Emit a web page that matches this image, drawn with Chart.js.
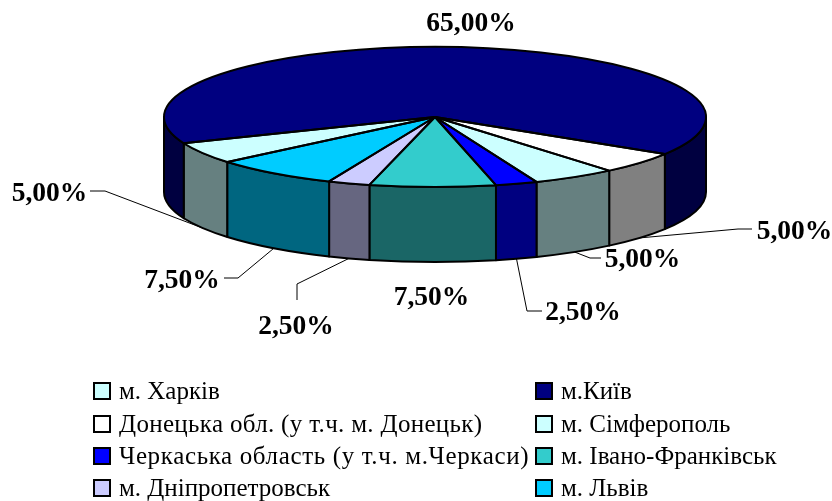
<!DOCTYPE html>
<html lang="uk">
<head>
<meta charset="utf-8">
<title>Розподіл за регіонами</title>
<script src="https://cdn.jsdelivr.net/npm/chart.js@4/dist/chart.umd.js"></script>
<style>
    html, body { margin: 0; padding: 0; background: #fff; }
    #wrap { width: 832px; height: 501px; }
</style>
</head>
<body>
<div id="wrap"><canvas id="pie" width="832" height="501"></canvas></div>
<script>
/* Values and names, in the legend's order */
const categories = [
    'м. Харків', 'м.Київ', 'Донецька обл. (у т.ч. м. Донецьк)', 'м. Сімферополь',
    'Черкаська область (у т.ч. м.Черкаси)', 'м. Івано-Франківськ', 'м. Дніпропетровськ', 'м. Львів',
];
const shares = [5, 65, 5, 5, 2.5, 7.5, 2.5, 7.5];
const topColors = ['#CCFFFF', '#000080', '#FFFFFF', '#CCFFFF', '#0000FF', '#33CCCC', '#CCCCFF', '#00CCFF'];
const wallColors = ['#668080', '#000040', '#808080', '#668080', '#000080', '#1A6666', '#666680', '#006680'];

/* Where the labels sit: text centre, then the leader's elbow points (null = no leader) */
const labelBoxes = [
    { x: 49.5, y: 193.5, leader: [[105, 191], [90, 191]] },
    { x: 471, y: 23.5, leader: null },
    { x: 794.5, y: 231.5, leader: [[738, 229], [752, 229]] },
    { x: 642.5, y: 259.5, leader: [[590, 258], [601, 258]] },
    { x: 583, y: 312.5, leader: [[527, 311], [542, 311]] },
    { x: 431.5, y: 297.5, leader: null },
    { x: 296, y: 326.5, leader: [[297, 284], [297, 300]] },
    { x: 182, y: 280.5, leader: [[238, 278], [224, 278]] },
];

/* The flattened disc on the page */
const DISC = { cx: 435, cy: 117, rx: 271, ry: 70, depth: 75 };
const LEGEND = { columns: [94, 536], rows: [392, 425, 457, 489], box: 16, gap: 9 };
const legendTracking = [0, 0, 0.33, 0, 0.64, 0, 0, 0];
const SERIF = "'Liberation Serif', 'Times New Roman', serif";
const OUTLINE = '#000';

// "5" -> "5,00%"
const percent = (v) => v.toFixed(2).replace('.', ',') + '%';

function arcsOf(chart) {
    return chart.getDatasetMeta(0).data;
}

/* Parts of an angle range that face the viewer (canvas angles 0..PI) */
function frontParts(start, end) {
    const parts = [];
    for (let k = -1; k <= 2; k++) {
        const a = Math.max(start, k * 2 * Math.PI);
        const b = Math.min(end, k * 2 * Math.PI + Math.PI);
        if (b > a) parts.push([a, b]);
    }
    return parts;
}

/* Side walls go under the pie, then the pie itself is squashed into an ellipse */
const disc3d = {
    id: 'disc3d',
    beforeDatasetsDraw(chart) {
        const { ctx } = chart;
        const { cx, cy, rx, ry, depth } = DISC;
        ctx.save();
        ctx.lineWidth = 2;
        ctx.strokeStyle = OUTLINE;
        ctx.lineJoin = 'round';
        arcsOf(chart).forEach((arc, i) => {
            frontParts(arc.startAngle, arc.endAngle).forEach(([a, b]) => {
                ctx.beginPath();
                ctx.ellipse(cx, cy, rx, ry, 0, a, b);
                ctx.ellipse(cx, cy + depth, rx, ry, 0, b, a, true);
                ctx.closePath();
                ctx.fillStyle = wallColors[i];
                ctx.fill();
                ctx.stroke();
            });
        });
        ctx.restore();

        const first = arcsOf(chart)[0];
        ctx.save();
        ctx.translate(cx, cy);
        ctx.scale(rx / first.outerRadius, ry / first.outerRadius);
        ctx.translate(-first.x, -first.y);
    },
    afterDatasetsDraw(chart) {
        const { ctx } = chart;
        const { cx, cy, rx, ry } = DISC;
        ctx.restore();

        // outlines are stroked unscaled so they keep an even width
        ctx.save();
        ctx.lineWidth = 2;
        ctx.strokeStyle = OUTLINE;
        ctx.lineJoin = 'round';
        arcsOf(chart).forEach((arc) => {
            ctx.beginPath();
            ctx.moveTo(cx, cy);
            ctx.ellipse(cx, cy, rx, ry, 0, arc.startAngle, arc.endAngle);
            ctx.closePath();
            ctx.stroke();
        });
        ctx.restore();
    },
};

/* Percent labels with their leader lines, anchored on each slice's lower rim */
const sliceLabels = {
    id: 'sliceLabels',
    afterDraw(chart) {
        const { ctx } = chart;
        const { cx, cy, rx, ry, depth } = DISC;
        ctx.save();
        ctx.lineWidth = 1;
        ctx.strokeStyle = '#000';
        arcsOf(chart).forEach((arc, i) => {
            const box = labelBoxes[i];
            if (box.leader) {
                const mid = (arc.startAngle + arc.endAngle) / 2;
                ctx.beginPath();
                ctx.moveTo(cx + rx * Math.cos(mid), cy + depth + ry * Math.sin(mid));
                box.leader.forEach(([x, y]) => ctx.lineTo(x, y));
                ctx.stroke();
            }
            ctx.font = `bold 27.5px ${SERIF}`;
            ctx.fillStyle = '#000';
            ctx.textAlign = 'center';
            ctx.textBaseline = 'middle';
            ctx.fillText(percent(shares[i]), box.x, box.y);
        });
        ctx.restore();
    },
};

/* Two-column legend, filled row by row like the original */
const gridLegend = {
    id: 'gridLegend',
    afterDraw(chart) {
        const { ctx } = chart;
        const { columns, rows, box, gap } = LEGEND;
        ctx.save();
        ctx.font = `25px ${SERIF}`;
        ctx.textAlign = 'left';
        ctx.textBaseline = 'middle';
        categories.forEach((name, i) => {
            const x = columns[i % 2];
            const y = rows[Math.floor(i / 2)];
            ctx.fillStyle = topColors[i];
            ctx.fillRect(x, y - box / 2 - 1, box, box);
            ctx.lineWidth = 2;
            ctx.strokeStyle = '#000';
            ctx.strokeRect(x, y - box / 2 - 1, box, box);
            ctx.fillStyle = '#000';
            ctx.letterSpacing = legendTracking[i] + 'px';
            ctx.fillText(name, x + box + gap, y);
        });
        ctx.restore();
    },
};

new Chart(document.getElementById('pie'), {
    type: 'pie',
    data: {
        labels: categories,
        datasets: [{ data: shares, backgroundColor: topColors, borderWidth: 0 }],
    },
    options: {
        responsive: false,
        animation: false,
        rotation: 230,
        plugins: { legend: { display: false }, tooltip: { enabled: false } },
    },
    plugins: [disc3d, sliceLabels, gridLegend],
});
</script>
</body>
</html>
